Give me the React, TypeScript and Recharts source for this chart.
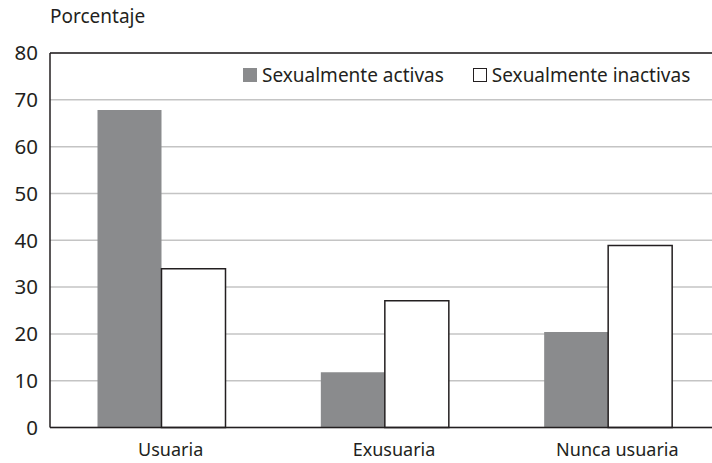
import { BarChart, Bar, XAxis, YAxis, CartesianGrid, Legend, ReferenceLine } from "recharts";

const categories = ["Usuaria", "Exusuaria", "Nunca usuaria"];
const activas = [67.8, 11.8, 20.4];
const inactivas = [33.9, 27.1, 38.9];
const yTicks = [0, 10, 20, 30, 40, 50, 60, 70, 80];

const data = categories.map((name, i) => ({
  name,
  activas: activas[i],
  inactivas: inactivas[i],
}));

const FONT = "'Noto Sans', sans-serif";
const INK = "#231f20";

function LegendContent({ payload }: { payload?: any[] }) {
  return (
    <div style={{ display: "flex", alignItems: "center", fontFamily: FONT, fontSize: 19, color: INK }}>
      {(payload || []).map((entry, i) => {
        const stroke = entry.payload?.stroke;
        return (
          <div key={i} style={{ display: "flex", alignItems: "center", marginRight: i === 0 ? 29 : 0 }}>
            <span
              style={{
                display: "inline-block",
                width: stroke ? 12 : 14,
                height: stroke ? 12 : 14,
                background: entry.payload?.fill,
                border: stroke ? `1px solid ${INK}` : "none",
                marginRight: 5,
              }}
            />
            <span>{entry.value}</span>
          </div>
        );
      })}
    </div>
  );
}

export default function App() {
  return (
    <div style={{ position: "absolute", left: 0, top: 0, width: 712, height: 463, overflow: "hidden", background: "#fff" }}>
      <div
        style={{
          position: "absolute",
          left: 50,
          top: 7,
          fontFamily: FONT,
          fontSize: 19,
          lineHeight: 1,
          color: INK,
        }}
      >
        Porcentaje
      </div>
      <BarChart
        width={720}
        height={463}
        data={data}
        margin={{ top: 53, right: 0, left: 0, bottom: 0 }}
        barCategoryGap={47.5}
        barGap={0}
      >
        <CartesianGrid vertical={false} stroke="#c4c4c4" strokeWidth={1.5} />
        <XAxis
          dataKey="name"
          height={35.5}
          tickLine={false}
          tickSize={0}
          tickMargin={16}
          axisLine={{ stroke: INK, strokeWidth: 1.5 }}
          tick={{ fontFamily: FONT, fontSize: 18, fill: INK, dx: 9 }}
        />
        <YAxis
          width={50}
          domain={[0, 80]}
          ticks={yTicks}
          interval={0}
          tickLine={false}
          tickSize={0}
          tickMargin={12}
          axisLine={{ stroke: INK, strokeWidth: 1.5 }}
          tick={{ fontFamily: FONT, fontSize: 20.5, fill: INK }}
        />
        <ReferenceLine y={80} stroke={INK} strokeWidth={1.5} />
        <Legend
          layout="vertical"
          align="center"
          verticalAlign="middle"
          content={<LegendContent />}
          wrapperStyle={{ top: 62, left: 243, width: "auto", height: "auto" }}
        />
        <Bar dataKey="activas" name="Sexualmente activas" fill="#8a8b8d" isAnimationActive={false} />
        <Bar
          dataKey="inactivas"
          name="Sexualmente inactivas"
          fill="#ffffff"
          stroke={INK}
          strokeWidth={1.5}
          isAnimationActive={false}
        />
      </BarChart>
    </div>
  );
}
